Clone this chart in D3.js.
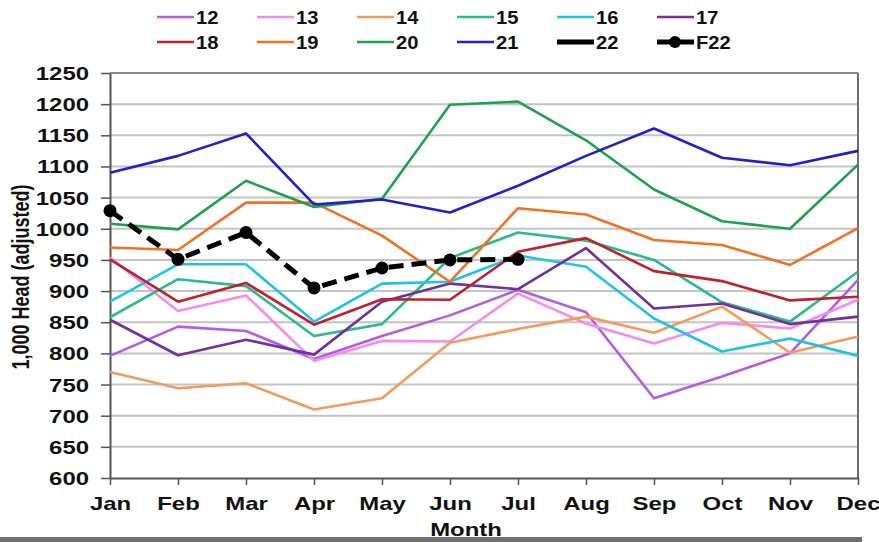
<!DOCTYPE html>
<html>
<head>
<meta charset="utf-8">
<script src="https://cdn.jsdelivr.net/npm/d3@7"></script>
<style>
  html, body { margin: 0; padding: 0; background: #ffffff; }
  svg { display: block; }
  text { font-family: "Liberation Sans", Arial, sans-serif; font-weight: bold; fill: #111; }
</style>
</head>
<body>
<svg id="chart" width="879" height="542"></svg>
<script>
// ---------- data ----------
const months = ["Jan","Feb","Mar","Apr","May","Jun","Jul","Aug","Sep","Oct","Nov","Dec"];
const yTicks = [600,650,700,750,800,850,900,950,1000,1050,1100,1150,1200,1250];
const seriesNames = ["12","13","14","15","16","17","18","19","20","21","22","F22"];

const v12  = [796, 843, 836, 791, 828, 861, 902, 866, 728, 763, 800, 918];
const v13  = [954, 868, 893, 788, 820, 819, 896, 848, 816, 849, 840, 886];
const v14  = [770, 744, 752, 710, 728, 817, 839, 859, 833, 875, 801, 827];
const v15  = [858, 919, 908, 828, 847, 953, 994, 981, 950, 882, 851, 931];
const v16  = [883, 943, 943, 851, 912, 915, 957, 939, 856, 803, 824, 796];
const v17  = [854, 797, 822, 798, 883, 912, 903, 969, 872, 880, 847, 859];
const v18  = [951, 883, 913, 846, 887, 886, 963, 985, 932, 916, 885, 891];
const v19  = [970, 966, 1042, 1042, 989, 915, 1033, 1023, 982, 974, 942, 1001];
const v20  = [1008, 999, 1077, 1035, 1048, 1199, 1204, 1142, 1063, 1012, 1000, 1103];
const v21  = [1090, 1117, 1153, 1039, 1047, 1026, 1069, 1117, 1161, 1114, 1102, 1125];
const v22  = [null, null, null, null, null, null, null, null, null, null, null, null];
const vF22 = [1029, 951, 994, 905, 937, 950, 951, null, null, null, null, null];

const seriesColors = ["#b35ce6","#f28cef","#f39a5c","#2bbb8c","#1cc4ea","#7030a0",
                      "#c0202c","#f27022","#1fa050","#2020d0","#000000","#000000"];
const seriesValues = [v12,v13,v14,v15,v16,v17,v18,v19,v20,v21,v22,vF22];

// ---------- layout ----------
const svg = d3.select("#chart");
const plot = {left: 110, right: 858, top: 73, bottom: 478};
const SX = 1.33; // horizontal text stretch seen in the reference

const x = d3.scalePoint().domain(months).range([plot.left, plot.right]);
const y = d3.scaleLinear().domain([600, 1250]).range([plot.bottom, plot.top]);

// gridlines
svg.append("g").selectAll("line")
  .data(yTicks.filter(t => t > 600 && t < 1250))
  .join("line")
  .attr("x1", plot.left).attr("x2", plot.right)
  .attr("y1", d => y(d)).attr("y2", d => y(d))
  .attr("stroke", "#c4c4c4").attr("stroke-width", 2);

// top & right frame
svg.append("line").attr("x1", plot.left).attr("x2", plot.right)
  .attr("y1", y(1250)).attr("y2", y(1250))
  .attr("stroke", "#8a8a8a").attr("stroke-width", 2);
svg.append("line").attr("x1", plot.right).attr("x2", plot.right)
  .attr("y1", plot.top).attr("y2", plot.bottom)
  .attr("stroke", "#6e6e6e").attr("stroke-width", 2);

// y axis
const yAxis = svg.append("g")
  .attr("transform", `translate(${plot.left},0)`)
  .call(d3.axisLeft(y).tickValues(yTicks).tickSize(9).tickSizeOuter(0).tickFormat(d3.format("d")));
yAxis.select(".domain").attr("stroke", "#555").attr("stroke-width", 2);
yAxis.selectAll(".tick line").attr("stroke", "#555").attr("stroke-width", 1.5);
yAxis.selectAll(".tick text")
  .attr("x", -21 / SX).attr("dy", "0.36em")
  .attr("transform", `scale(${SX},1)`)
  .style("font-size", "18px").style("font-family", "'Liberation Sans', Arial, sans-serif")
  .style("font-weight", "bold").attr("fill", "#111");

// x axis
const xAxis = svg.append("g")
  .attr("transform", `translate(0,${plot.bottom})`)
  .call(d3.axisBottom(x).tickSize(7).tickSizeOuter(0));
xAxis.select(".domain").attr("stroke", "#555").attr("stroke-width", 2);
xAxis.selectAll(".tick line").attr("stroke", "#555").attr("stroke-width", 1.5);
xAxis.selectAll(".tick text")
  .attr("y", 32).attr("dy", null)
  .attr("transform", `scale(${SX},1)`)
  .style("font-size", "18px").style("font-family", "'Liberation Sans', Arial, sans-serif")
  .style("font-weight", "bold").attr("fill", "#111");

// axis titles
svg.append("text")
  .attr("transform", `translate(29,277) scale(${SX},1) rotate(-90)`)
  .attr("text-anchor", "middle")
  .style("font-size", "18px")
  .text("1,000 Head (adjusted)");
svg.append("text")
  .attr("transform", `translate(466,536) scale(${SX},1)`)
  .attr("text-anchor", "middle")
  .style("font-size", "18px")
  .text("Month");

// lines
const line = d3.line()
  .defined(d => d.v != null)
  .x(d => x(d.m)).y(d => y(d.v));

const lineG = svg.append("g");
seriesNames.forEach((name, i) => {
  const data = months.map((m, j) => ({m, v: seriesValues[i][j]}));
  const isF = name === "F22";
  const is22 = name === "22";
  lineG.append("path")
    .datum(data)
    .attr("fill", "none")
    .attr("stroke", seriesColors[i])
    .attr("stroke-width", isF || is22 ? 5 : 2.6)
    .attr("stroke-dasharray", isF ? "15,8" : null)
    .attr("stroke-linejoin", "round")
    .attr("d", line);
  if (isF) {
    lineG.selectAll(null)
      .data(data.filter(d => d.v != null))
      .join("circle")
      .attr("cx", d => x(d.m)).attr("cy", d => y(d.v))
      .attr("r", 6.5).attr("fill", "#000");
  }
});

// legend
const legend = svg.append("g");
seriesNames.forEach((name, i) => {
  const col = i % 6, row = Math.floor(i / 6);
  const lx = 157 + col * 100, ly = 17 + row * 25;
  const g = legend.append("g").attr("transform", `translate(${lx},${ly})`);
  const thick = name === "22" || name === "F22";
  g.append("line").attr("x1", 0).attr("x2", 37).attr("y1", 0).attr("y2", 0)
    .attr("stroke", seriesColors[i]).attr("stroke-width", thick ? 5 : 2.6);
  if (name === "F22") g.append("circle").attr("cx", 18).attr("cy", 0).attr("r", 6).attr("fill", "#000");
  g.append("text")
    .attr("transform", `translate(39,7) scale(1.12,1)`)
    .style("font-size", "18px")
    .text(name);
});

// bottom grey bar
svg.append("rect").attr("x", 0).attr("y", 537).attr("width", 862).attr("height", 5)
  .attr("fill", "#6f6f6f");
</script>
</body>
</html>
